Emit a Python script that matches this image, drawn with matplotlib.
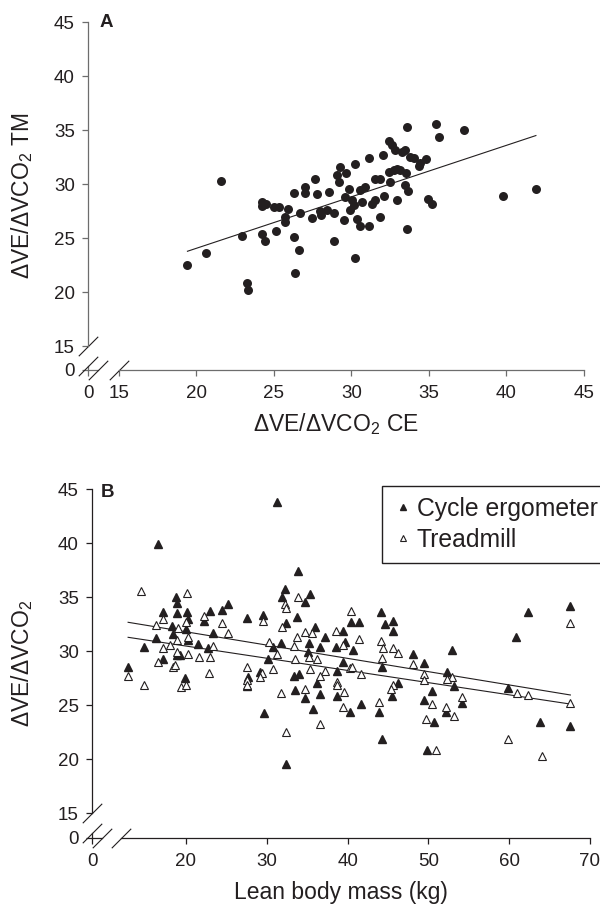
import matplotlib.pyplot as plt

plt.rcParams['font.family'] = ['Liberation Sans', 'DejaVu Sans']
plt.rcParams['mathtext.fontset'] = 'custom'
plt.rcParams['mathtext.rm'] = 'Liberation Sans'
plt.rcParams['mathtext.default'] = 'regular'

ink = '#231f20'

# Panel A: VE/VCO2 slope on cycle ergometer (x) vs treadmill (y)
ce_slope = [19.44, 20.65, 21.63, 22.97, 23.31, 23.37, 24.24, 24.24, 24.5, 24.24,
            24.45, 24.99, 25.35, 25.14, 25.7, 25.7, 25.9, 26.28, 26.28, 26.65,
            26.39, 26.71, 27.03, 27.03, 27.68, 27.79, 27.46, 28.0, 28.04, 28.43,
            28.54, 28.86, 28.86, 29.07, 29.18, 29.29, 29.66, 29.83, 29.61, 30.04,
            30.15, 30.26, 30.58, 30.9, 30.69, 29.94, 30.37, 30.58, 31.12, 30.26,
            29.5, 31.12, 31.33, 31.55, 31.55, 31.83, 31.87, 32.05, 32.13, 32.41,
            32.41, 32.62, 32.73, 32.84, 32.52, 32.95, 32.95, 33.16, 33.27, 33.48,
            33.59, 33.55, 33.48, 33.63, 33.81, 34.02, 34.35, 34.45, 34.84, 33.59,
            34.95, 35.2, 35.48, 35.66, 37.29, 39.8, 41.9]
tm_slope = [22.5, 23.67, 30.31, 25.19, 20.86, 20.19, 28.36, 28.0, 28.21, 25.35,
            24.77, 27.9, 27.9, 25.68, 26.98, 26.51, 27.75, 25.12, 29.23, 23.95,
            21.79, 27.35, 29.75, 29.2, 30.46, 29.14, 26.92, 27.53, 27.13, 27.65,
            29.29, 27.35, 24.75, 30.83, 30.21, 31.6, 31.0, 29.6, 28.83, 28.52,
            28.06, 31.85, 29.44, 29.75, 28.36, 27.59, 26.82, 26.14, 26.14, 23.21,
            26.67, 32.38, 28.15, 28.52, 30.52, 26.98, 30.52, 32.69, 28.92, 33.98,
            31.14, 33.61, 31.3, 33.15, 30.21, 28.52, 31.45, 31.3, 32.99, 33.15,
            35.31, 31.0, 29.91, 29.4, 32.53, 32.38, 31.67, 31.92, 32.29, 25.9,
            28.67, 28.21, 35.53, 34.38, 35.0, 28.9, 29.6]
fit_a_x = [19.44, 41.9]
fit_a_y = [23.8, 34.5]

# Panel B: VE/VCO2 slope vs lean body mass
lbm_cycle = [16.57, 31.25, 18.72, 18.92, 17.18, 18.84, 20.08, 20.29, 22.23, 22.98,
             24.43, 25.25, 18.23, 20.0, 27.53, 29.51, 16.28, 18.35, 20.29, 23.31,
             21.53, 22.77, 14.83, 19.26, 18.84, 17.18, 12.84, 19.88, 27.73, 27.53,
             29.18, 30.21, 30.75, 31.79, 32.28, 33.86, 31.87, 35.38, 34.76, 33.73,
             32.37, 36.0, 37.16, 35.17, 36.54, 35.1, 33.31, 33.93, 36.21, 33.52,
             34.76, 36.63, 35.67, 29.6, 32.44, 49.82, 44.1, 40.42, 41.45, 44.63,
             45.58, 45.58, 39.39, 39.68, 38.56, 40.63, 48.13, 49.46, 44.22, 39.47,
             38.65, 52.96, 52.26, 53.2, 46.28, 45.46, 50.41, 54.2, 38.65, 41.66,
             40.3, 43.93, 49.46, 52.12, 50.73, 59.81, 60.84, 62.29, 67.57, 67.5,
             63.8, 44.22]
slope_cycle = [39.91, 43.77, 34.97, 34.41, 33.58, 33.49, 33.64, 32.96, 32.78, 33.7,
               33.8, 34.32, 32.31, 32.04, 33.03, 33.33, 31.17, 31.57, 31.02, 31.64,
               30.65, 30.25, 30.4, 29.63, 29.63, 29.23, 28.49, 27.53, 27.56, 26.8,
               28.08, 29.23, 30.34, 30.71, 35.74, 37.41, 34.97, 35.28, 34.51, 33.18,
               32.56, 32.25, 31.27, 30.77, 30.34, 29.94, 27.72, 27.85, 27.07, 26.39,
               25.68, 25.99, 24.6, 24.23, 19.57, 20.81, 33.64, 32.66, 32.66, 32.47,
               32.78, 31.88, 31.88, 30.86, 30.34, 30.09, 29.72, 28.92, 28.55, 29.01,
               28.15, 30.09, 28.09, 26.76, 27.07, 25.83, 26.32, 25.16, 25.83, 25.09,
               24.32, 24.38, 25.46, 24.4, 23.4, 26.54, 31.27, 33.64, 34.17, 23.1,
               23.45, 21.85]
lbm_tread = [14.38, 20.08, 17.18, 22.23, 16.28, 18.97, 20.0, 24.43, 25.25, 29.51,
             18.84, 20.2, 23.31, 18.01, 17.18, 18.84, 20.29, 21.61, 22.98, 16.56,
             18.42, 18.7, 12.84, 14.83, 22.85, 19.34, 20.0, 27.53, 27.53, 27.53,
             29.39, 29.18, 30.71, 30.26, 31.25, 32.2, 32.37, 33.86, 31.87, 33.73,
             34.76, 35.6, 33.31, 35.17, 36.21, 33.52, 35.38, 37.16, 36.63, 34.76,
             31.74, 36.54, 32.37, 40.42, 38.56, 41.45, 44.1, 39.39, 44.34, 45.58,
             46.28, 48.13, 44.22, 40.3, 40.6, 41.66, 52.88, 52.26, 49.49, 49.49,
             45.58, 45.4, 38.73, 38.73, 54.2, 39.6, 39.47, 43.93, 50.41, 52.12,
             53.2, 49.67, 60.93, 62.29, 67.57, 67.5, 59.81, 50.9, 64.06]
slope_tread = [35.56, 35.34, 32.96, 33.24, 32.41, 32.16, 32.71, 32.56, 31.7, 32.78,
               31.02, 31.3, 30.46, 30.56, 30.25, 29.94, 29.72, 29.41, 29.41, 29.0,
               28.55, 28.7, 27.69, 26.82, 28.0, 26.7, 26.85, 28.55, 27.31, 26.85,
               27.93, 27.62, 28.31, 30.87, 29.69, 34.35, 33.95, 35.03, 32.19, 31.33,
               31.79, 31.64, 30.46, 29.47, 29.23, 29.23, 28.31, 28.15, 27.69, 26.48,
               26.08, 23.21, 22.53, 33.73, 31.88, 31.11, 30.95, 30.56, 30.31, 30.25,
               29.79, 28.8, 29.32, 28.4, 28.5, 27.87, 27.62, 27.41, 27.84, 27.3,
               26.85, 26.5, 27.16, 26.9, 25.71, 26.17, 24.79, 25.25, 25.09, 24.79,
               23.98, 23.7, 26.14, 25.93, 32.56, 25.2, 21.85, 20.87, 20.31]
fit_cycle_x = [12.84, 67.57]
fit_cycle_y = [32.66, 25.93]
fit_tread_x = [12.84, 67.57]
fit_tread_y = [31.27, 25.09]

slash = [(-1, -1), (1, 1)]


def broken_frame(ax, x0, y0, x_resume, x_cut, y_cut, xticks, yticks, color):
    # axes with a break between the origin and the first real tick
    ax.set_xlim(x0, xticks[-1])
    ax.set_ylim(y0, yticks[-1])
    for s in ['top', 'right']:
        ax.spines[s].set_visible(False)
    ax.spines['left'].set_bounds(yticks[0], yticks[-1])
    ax.spines['bottom'].set_bounds(x_resume, xticks[-1])
    for s in ['left', 'bottom']:
        ax.spines[s].set_color(color)
        ax.spines[s].set_linewidth(0.9)
    ax.set_xticks([x0] + xticks)
    ax.set_xticklabels(['0'] + [str(v) for v in xticks])
    ax.set_yticks([y0] + yticks)
    ax.set_yticklabels(['0'] + [str(v) for v in yticks])
    ax.tick_params(axis='both', direction='out', length=4, width=0.9,
                   color=color, labelcolor=ink, labelsize=13.5)
    ax.tick_params(axis='x', pad=7)
    ax.tick_params(axis='y', pad=5.5)
    # short stubs at the origin
    ax.plot([x0, x0], [y0, y_cut], color=color, lw=0.9, clip_on=False)
    ax.plot([x0, x_cut], [y0, y0], color=color, lw=0.9, clip_on=False)
    # break marks
    ax.plot([x0, x0, x_cut, x_resume], [yticks[0], y_cut, y0, y0],
            linestyle='none', marker=slash, markersize=14, mew=0.8,
            color=ink, clip_on=False)


fig = plt.figure(figsize=(6, 9.07), dpi=100)

# ---- panel A ----
ax1 = fig.add_axes([88 / 600, 537 / 907, 496 / 600, 348 / 907])
broken_frame(ax1, 13.03, 12.82, 15, 13.68, 13.2,
             [15, 20, 25, 30, 35, 40, 45], [15, 20, 25, 30, 35, 40, 45], '#6d6d6d')
ax1.scatter(ce_slope, tm_slope, s=42, color=ink, linewidths=0, zorder=3)
ax1.plot(fit_a_x, fit_a_y, color=ink, lw=0.8)
ax1.text(0.024, 1.0, 'A', transform=ax1.transAxes, fontsize=13.5,
         fontweight='bold', color=ink, va='center', ha='left')
ax1.set_xlabel(r'ΔVE/ΔVCO$_2$ CE', fontsize=16.5, color=ink)
ax1.xaxis.set_label_coords(0.5, -0.155)
ax1.xaxis.label.set_va('center')
ax1.set_ylabel(r'ΔVE/ΔVCO$_2$ TM', fontsize=16.5, color=ink)
ax1.yaxis.set_label_coords(-0.133, 0.5)
ax1.yaxis.label.set_va('center')

# ---- panel B ----
ax2 = fig.add_axes([92 / 600, 69 / 907, 498 / 600, 349 / 907])
broken_frame(ax2, 8.37, 12.69, 11.96, 9.6, 13.15,
             [20, 30, 40, 50, 60, 70], [15, 20, 25, 30, 35, 40, 45], ink)
ax2.plot(lbm_cycle, slope_cycle, linestyle='none', marker='^', markersize=6.3,
         color=ink, mec=ink, label='Cycle ergometer', zorder=3)
ax2.plot(lbm_tread, slope_tread, linestyle='none', marker='^', markersize=6.3,
         mfc='white', mec=ink, mew=0.8, label='Treadmill', zorder=3)
ax2.plot(fit_cycle_x, fit_cycle_y, color=ink, lw=0.8)
ax2.plot(fit_tread_x, fit_tread_y, color=ink, lw=0.8)
ax2.text(0.018, 0.991, 'B', transform=ax2.transAxes, fontsize=13.5,
         fontweight='bold', color=ink, va='center', ha='left')
ax2.set_xlabel('Lean body mass (kg)', fontsize=16.5, color=ink)
ax2.xaxis.set_label_coords(0.5, -0.155)
ax2.xaxis.label.set_va('center')
ax2.set_ylabel(r'ΔVE/ΔVCO$_2$', fontsize=16.5, color=ink)
ax2.yaxis.set_label_coords(-0.1406, 0.5)
ax2.yaxis.label.set_va('center')

leg = ax2.legend(loc='upper left', bbox_to_anchor=(382 / 600, 421 / 907),
                 bbox_transform=fig.transFigure, borderaxespad=0,
                 fontsize=17.8, markerscale=0.65, handlelength=0.8,
                 handletextpad=0.15, borderpad=0.45, labelspacing=0.28,
                 fancybox=False, framealpha=1, edgecolor=ink)
leg.get_frame().set_linewidth(1.0)
for t in leg.get_texts():
    t.set_color(ink)

fig.savefig('out.png', dpi=100)
